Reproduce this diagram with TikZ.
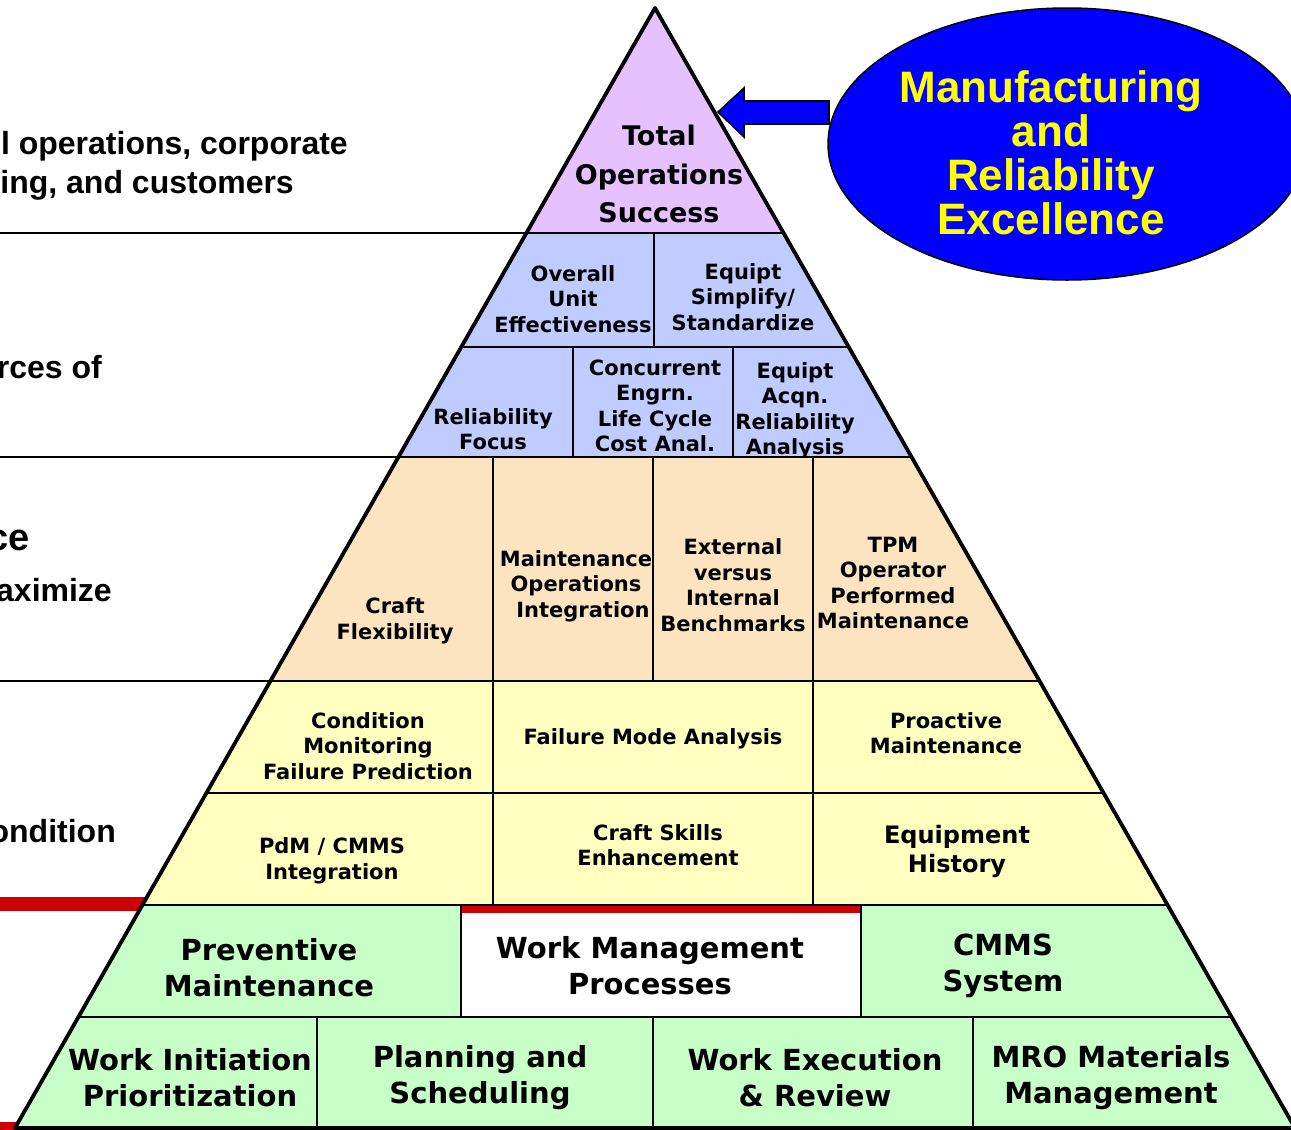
\documentclass[tikz,border=0pt]{standalone}
\usepackage{fontspec}
\usetikzlibrary{shapes.geometric}
\newfontfamily\vfont{DejaVu Sans}
\newfontfamily\afont{Liberation Sans}
\definecolor{cTop}{RGB}{229,194,255}
\definecolor{cBlue}{RGB}{192,204,255}
\definecolor{cOrange}{RGB}{252,228,192}
\definecolor{cYellow}{RGB}{255,255,192}
\definecolor{cGreen}{RGB}{200,255,200}
\definecolor{cRed}{RGB}{204,0,0}
\definecolor{cEll}{RGB}{0,0,255}
\definecolor{cEllText}{RGB}{255,255,0}
\tikzset{
  cell/.style={align=center, inner sep=0pt, font=\vfont\bfseries\fontsize{21}{25.5}\selectfont},
  celltop/.style={cell, font=\vfont\bfseries\fontsize{27}{38.5}\selectfont},
  celleq/.style={cell, font=\vfont\bfseries\fontsize{24}{29}\selectfont},
  cellbig/.style={cell, font=\vfont\bfseries\fontsize{29}{36}\selectfont},
  lefttxt/.style={anchor=base east, inner sep=0pt, font=\afont\bfseries\fontsize{32}{39}\selectfont},
  innerline/.style={line width=2.5pt, black},
  outline/.style={line width=3.8pt, black, line join=round},
}
\begin{document}
\begin{tikzpicture}[x=1pt,y=-1pt]
\useasboundingbox (0,0) rectangle (1291,1130);
\clip (0,0) rectangle (1291,1130);
% red rules
\fill[cRed] (0,897) rectangle (150,911);
\fill[cRed] (0,1122) rectangle (20,1131);
% pyramid bands with texts
\begin{scope}
\clip (655,8) -- (15,1128) -- (1295,1128) -- cycle;
\fill[cTop] (0,0) rectangle (1300,233);
\fill[cBlue] (0,233) rectangle (1300,457);
\node[celltop] (tos) at (659,174) {Total\\Operations\\Success};
\node[cell] (oue) at (573,299) {Overall\\Unit\\Effectiveness};
\node[cell] (ess) at (743,297) {Equipt\\Simplify/\\Standardize};
\node[cell] (rf) at (493,429) {Reliability\\Focus};
\node[cell] (ceng) at (655,406) {Concurrent\\Engrn.\\Life Cycle\\Cost Anal.};
\node[cell] (eara) at (795,411) {Equipt\\Acqn.\\Reliability\\Analysis};
\fill[cOrange] (0,457) rectangle (1300,681);
\fill[cYellow] (0,681) rectangle (1300,905);
\fill[cGreen] (0,905) rectangle (1300,1131);
\fill[white] (461,905) rectangle (861,1017);
\fill[cRed] (461,906) rectangle (861,913);
\node[cell] (cf) at (395,621) {Craft\\Flexibility};
\node[cell] (moi) at (576,586) {Maintenance\\Operations\\\hspace*{14pt}Integration};
\node[cell] (evib) at (733,585) {External\\versus\\Internal\\Benchmarks};
\node[cell] (tpm) at (893,583) {TPM\\Operator\\Performed\\Maintenance};
\node[cell] (cmfp) at (368,746) {Condition\\Monitoring\\Failure Prediction};
\node[cell] (fma) at (653,739) {Failure Mode Analysis};
\node[cell] (pmt) at (946,733) {Proactive\\Maintenance};
\node[cell] (pdm) at (332,861) {PdM / CMMS\\Integration};
\node[cell] (cse) at (658,845) {Craft Skills\\Enhancement};
\node[celleq] (eh) at (957,851) {Equipment\\History};
\node[cellbig] (prev) at (269,968) {Preventive\\Maintenance};
\node[cellbig] (wmp) at (650,966) {Work Management\\Processes};
\node[cellbig] (cmms) at (1003,966) {CMMS\\System};
\node[cellbig] (wip) at (190,1078) {Work Initiation\\Prioritization};
\node[cellbig] (pas) at (480,1078) {Planning and\\Scheduling};
\node[cellbig] (wer) at (815,1078) {Work Execution\\\& Review};
\node[cellbig] (mro) at (1111,1078) {MRO Materials\\Management};
% vertical dividers
\draw[innerline] (654,233) -- (654,347);
\draw[innerline] (573,347) -- (573,457);
\draw[innerline] (733,347) -- (733,457);
\draw[innerline] (493,457) -- (493,905);
\draw[innerline] (653,457) -- (653,681);
\draw[innerline] (813,457) -- (813,905);
\draw[innerline] (461,905) -- (461,1017);
\draw[innerline] (861,905) -- (861,1017);
\draw[innerline] (317,1017) -- (317,1128);
\draw[innerline] (653,1017) -- (653,1128);
\draw[innerline] (973,1017) -- (973,1128);
\draw[innerline] (0,347) -- (1300,347);
\draw[innerline] (0,793) -- (1300,793);
\draw[innerline] (0,905) -- (1300,905);
\draw[innerline] (0,1017) -- (1300,1017);
\end{scope}
% level rules reaching to the left margin
\draw[innerline] (0,233) -- (783.6,233);
\draw[innerline] (0,457) -- (911.6,457);
\draw[innerline] (0,681) -- (1039.6,681);
% pyramid outline
\draw[outline] (655,8) -- (15,1128) -- (1295,1128) -- cycle;
% left texts
\node[lefttxt] (l1) at (348,154) {l operations, corporate};
\node[lefttxt] (l2) at (294,193) {ing, and customers};
\node[lefttxt] (l3) at (102,378) {rces of};
\node[lefttxt, font=\afont\bfseries\fontsize{38}{44}\selectfont] (l4) at (30,550) {ce};
\node[lefttxt] (l5) at (112,601) {aximize};
\node[lefttxt] (l6) at (116,842) {ondition};
% ellipse and arrow
\node[ellipse, draw=black, line width=1.5pt, fill=cEll, minimum width=478pt, minimum height=272pt, inner sep=0pt] (mre) at (1067,144) {};
\node[align=center, inner sep=0pt, text=cEllText, font=\afont\bfseries\fontsize{44}{44}\selectfont] (mretext) at (1051,153) {Manufacturing\\and\\Reliability\\Excellence};
\coordinate (tip) at (718,112);
\draw[fill=cEll, line width=1.6pt, line join=miter] (tip) -- (744,88) -- (744,101) -- (829,101) -- (829,124) -- (744,124) -- (744,137) -- cycle;
\end{tikzpicture}
\end{document}
